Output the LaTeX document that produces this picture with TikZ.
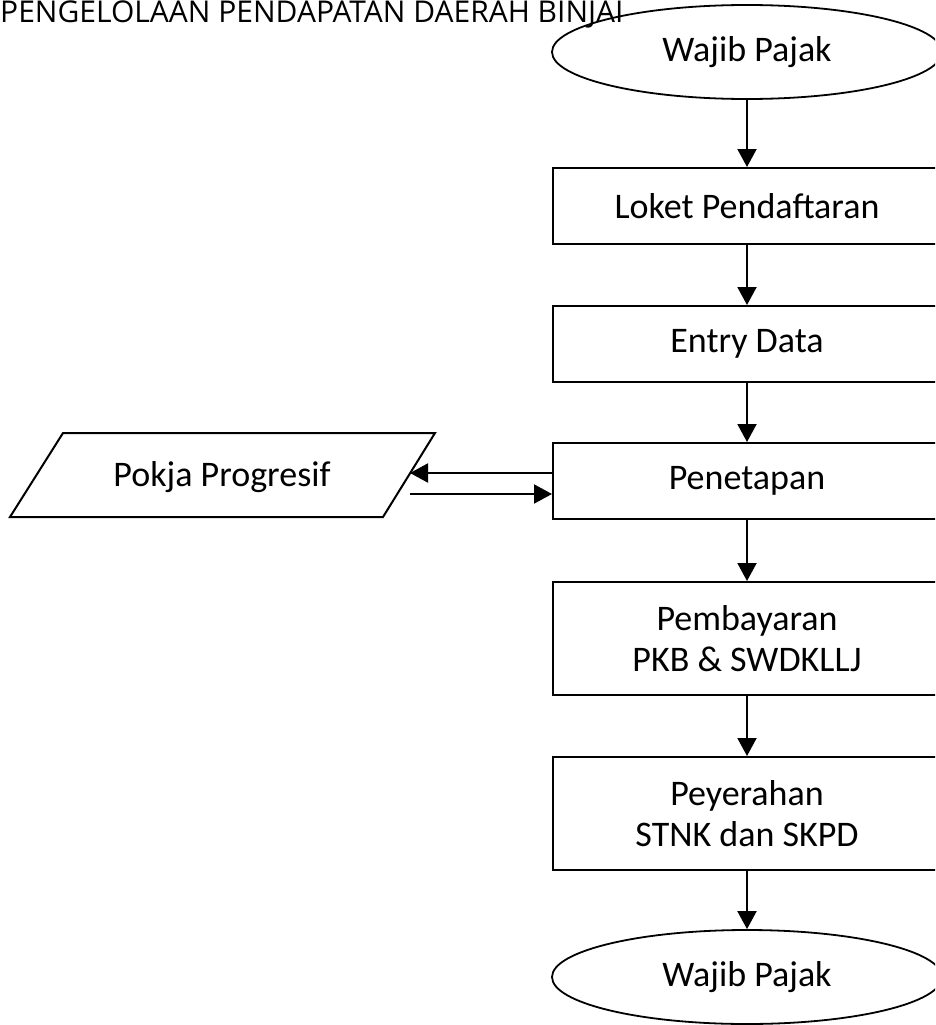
\documentclass[tikz,border=0pt]{standalone}
\usepackage{fontspec}
\setmainfont{Carlito}
\newfontfamily\titlefont{Open Sans}
\usetikzlibrary{shapes.geometric,arrows.meta}
\begin{document}
\begin{tikzpicture}[x=1pt,y=-1pt,
  lbl/.style={font=\fontsize{36}{41}\selectfont, align=center},
  procbox/.style={draw, line width=2pt, minimum width=388pt, inner sep=0pt, lbl},
  term/.style={draw, ellipse, line width=1.8pt, minimum width=390pt, minimum height=94pt, inner sep=0pt, lbl},
  flow/.style={line width=2pt, -{Triangle[length=18pt,width=19pt]}}]
\useasboundingbox (0,0) rectangle (935,1025);
\clip (0,0) rectangle (935,1025);
\fill[white] (0,0) rectangle (935,1025);
% title
\node[anchor=base west, inner sep=0pt, font=\titlefont\fontsize{30}{33}\selectfont] (title) at (0,23) {PENGELOLAAN PENDAPATAN DAERAH BINJAI};
% terminals
\node[term] (wp1) at (747,52) {Wajib Pajak};
\node[term] (wp2) at (747,977) {Wajib Pajak};
% process boxes
\node[procbox, minimum height=76pt] (loket) at (747,206) {Loket Pendaftaran};
\node[procbox, minimum height=76pt] (entry) at (747,344) {Entry Data};
\node[procbox, minimum height=76pt] (pen) at (747,481) {Penetapan};
\node[procbox, minimum height=113pt] (bayar) at (747,638.5) {Pembayaran\\PKB \& SWDKLLJ};
\node[procbox, minimum height=113pt] (serah) at (747,813.5) {Peyerahan\\STNK dan SKPD};
% parallelogram
\coordinate (ptl) at (63,433);
\coordinate (ptr) at (435,433);
\coordinate (pbr) at (383,517);
\coordinate (pbl) at (10,517);
\draw[line width=2pt] (ptl) -- (ptr) -- (pbr) -- (pbl) -- cycle;
\node[lbl] (pokja) at (222,477) {Pokja Progresif};
\coordinate (pin) at (410,473);
\coordinate (pout) at (410,494);
% flows
\draw[flow] (wp1) -- (loket);
\draw[flow] (loket) -- (entry);
\draw[flow] (entry) -- (pen);
\draw[flow] (pen) -- (bayar);
\draw[flow] (bayar) -- (serah);
\draw[flow] (serah) -- (wp2);
\draw[flow] (pen.west |- pin) -- (pin);
\draw[flow] (pout) -- (pen.west |- pout);
\end{tikzpicture}
\end{document}
